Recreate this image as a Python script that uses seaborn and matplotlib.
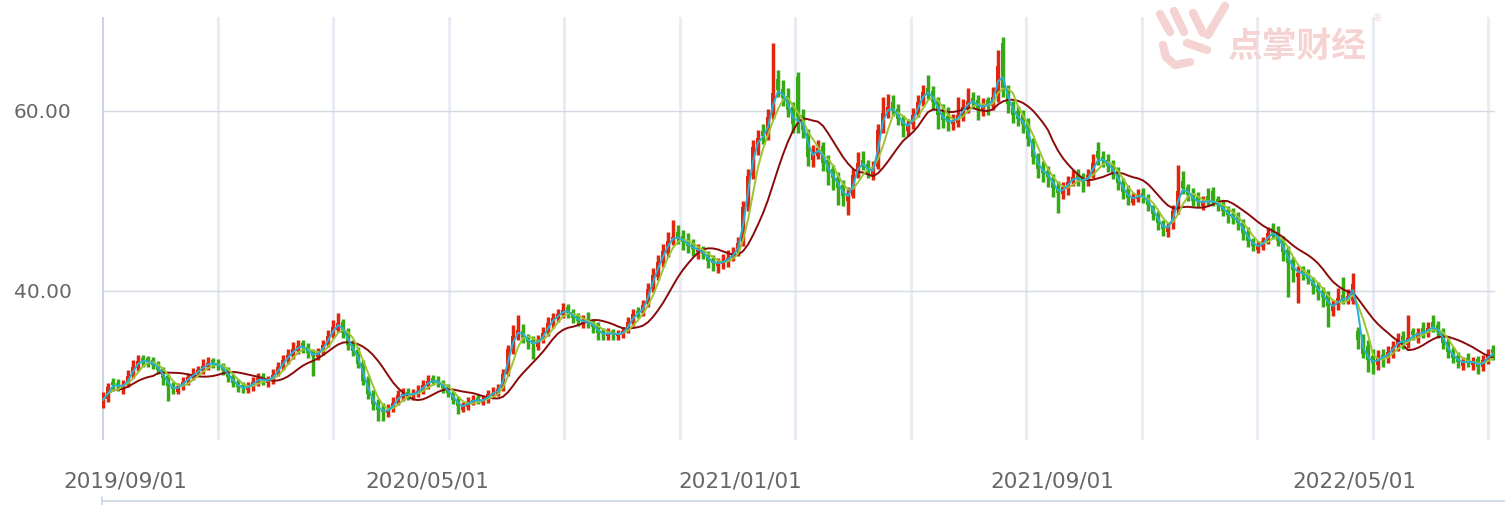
import numpy as np
import pandas as pd
import seaborn as sns
import matplotlib.pyplot as plt
from matplotlib.lines import Line2D

# OHLC candles (one candle ~ every 2-3 trading days)
opens = [
    27.3, 28.0, 29.9, 29.8, 29.0, 29.6, 30.6, 31.4, 32.6, 32.5,
    32.3, 31.9, 31.3, 30.5, 29.6, 28.8, 29.4, 30.0, 30.6, 30.9,
    31.1, 31.6, 32.3, 32.0, 31.8, 31.3, 30.5, 29.9, 29.5, 29.0,
    29.3, 29.8, 30.5, 29.8, 30.1, 30.8, 31.5, 32.5, 32.8, 33.3,
    34.2, 33.8, 33.3, 32.7, 33.3, 34.1, 35.1, 35.7, 36.6, 35.5,
    34.1, 33.4, 32.0, 30.1, 28.6, 27.6, 26.9, 26.4, 26.9, 27.6,
    28.2, 28.8, 28.3, 28.5, 28.9, 29.4, 30.3, 30.1, 29.8, 29.3,
    28.6, 27.9, 26.8, 27.1, 27.6, 28.1, 27.6, 27.9, 28.4, 28.6,
    29.2, 30.8, 33.4, 35.0, 35.6, 34.9, 34.6, 33.8, 34.6, 35.3,
    36.3, 37.0, 37.3, 38.2, 37.7, 37.2, 36.4, 36.8, 36.6, 36.1,
    35.5, 35.0, 35.5, 35.0, 35.1, 35.6, 36.4, 37.8, 37.5, 38.5,
    40.2, 41.6, 43.1, 44.2, 45.8, 46.5, 46.1, 45.7, 45.2, 44.3,
    44.6, 44.0, 43.6, 42.8, 43.0, 43.2, 43.8, 44.3, 45.4, 49.4,
    52.9, 55.8, 57.8, 57.2, 59.5, 63.5, 62.4, 61.7, 60.4, 63.8,
    59.6, 57.5, 54.6, 55.0, 56.1, 54.5, 53.5, 52.6, 51.8, 50.0,
    50.6, 53.0, 54.6, 54.1, 52.9, 53.8, 58.0, 59.6, 61.0, 60.2,
    59.0, 57.8, 58.5, 59.7, 61.1, 62.6, 62.2, 61.1, 59.8, 59.4,
    58.5, 58.7, 59.4, 60.3, 61.4, 61.2, 60.0, 61.2, 60.6, 61.5,
    67.5, 62.4, 60.3, 60.0, 59.6, 58.7, 56.5, 54.8, 53.8, 53.3,
    52.6, 51.6, 50.8, 51.3, 52.2, 52.9, 52.6, 52.2, 53.0, 55.6,
    54.9, 54.6, 54.0, 53.3, 52.1, 51.2, 49.8, 50.2, 50.9, 50.3,
    49.3, 48.6, 47.6, 46.5, 47.4, 49.0, 52.2, 51.6, 50.9, 50.4,
    49.4, 50.5, 51.1, 50.2, 49.6, 49.0, 48.6, 48.3, 47.6, 46.6,
    45.7, 44.6, 44.9, 45.7, 47.0, 46.6, 45.8, 44.5, 43.4, 41.5,
    42.4, 42.0, 41.2, 40.6, 40.0, 39.6, 37.8, 38.4, 39.6, 38.8,
    38.9, 35.5, 34.8, 33.9, 32.8, 31.8, 32.9, 32.6, 33.2, 33.9,
    35.0, 34.0, 35.5, 34.7, 35.9, 35.3, 36.6, 36.2, 35.5, 34.3,
    33.3, 32.8, 31.7, 32.6, 31.8, 32.4, 31.5, 32.2, 33.6,
]
closes = [
    27.9, 29.3, 29.6, 29.4, 29.5, 30.5, 31.6, 32.2, 32.2, 32.1,
    31.8, 31.2, 30.3, 29.4, 29.1, 29.4, 29.9, 30.4, 30.8, 31.2,
    31.7, 32.0, 31.9, 31.7, 31.2, 30.4, 29.8, 29.3, 29.2, 29.4,
    29.9, 30.3, 30.0, 30.1, 30.7, 31.5, 32.3, 32.9, 33.5, 33.9,
    33.7, 33.1, 32.8, 33.2, 34.0, 35.0, 36.0, 36.4, 35.3, 34.0,
    33.3, 31.9, 30.0, 28.5, 27.4, 26.8, 26.6, 26.8, 27.6, 28.4,
    28.5, 28.5, 28.6, 28.9, 29.5, 30.0, 30.0, 29.8, 29.2, 28.7,
    27.9, 27.2, 27.2, 27.7, 27.9, 27.8, 27.9, 28.5, 28.7, 29.1,
    30.8, 33.5, 35.0, 35.7, 34.8, 34.3, 34.1, 34.5, 35.3, 36.4,
    37.0, 37.4, 37.9, 37.6, 37.0, 36.7, 36.6, 36.5, 36.0, 35.3,
    35.2, 35.3, 35.2, 35.2, 35.5, 36.5, 37.4, 37.6, 38.4, 40.2,
    41.8, 43.2, 44.4, 45.6, 46.0, 45.9, 45.4, 45.0, 44.7, 44.5,
    44.1, 43.3, 43.1, 43.1, 43.3, 43.7, 44.2, 45.3, 49.3, 52.8,
    56.0, 57.0, 57.2, 59.3, 62.0, 62.3, 61.4, 60.1, 58.5, 59.3,
    57.9, 54.9, 55.3, 55.9, 54.2, 53.2, 52.5, 51.4, 50.6, 50.5,
    52.9, 54.2, 54.0, 53.1, 53.6, 57.9, 59.8, 60.4, 60.0, 59.1,
    58.3, 58.4, 59.6, 61.0, 62.1, 62.0, 61.0, 59.6, 59.0, 58.8,
    58.9, 59.5, 60.4, 61.1, 61.0, 60.3, 60.6, 60.8, 61.6, 65.0,
    62.5, 60.8, 59.6, 59.1, 58.5, 56.9, 54.9, 53.6, 53.1, 52.7,
    51.4, 50.9, 51.5, 52.1, 52.7, 52.4, 52.1, 52.9, 54.2, 54.8,
    54.4, 53.9, 53.1, 52.0, 51.0, 50.3, 50.3, 50.7, 50.4, 49.6,
    48.5, 47.5, 46.9, 47.2, 48.9, 51.1, 51.4, 50.7, 50.0, 49.9,
    49.9, 50.0, 49.9, 49.5, 48.9, 48.4, 48.1, 47.5, 46.4, 45.6,
    45.0, 45.0, 45.5, 46.4, 46.4, 45.6, 44.3, 43.1, 42.3, 42.0,
    41.9, 41.3, 40.5, 39.9, 39.3, 38.3, 38.3, 39.2, 39.0, 39.4,
    40.8, 34.5, 33.0, 32.3, 32.0, 32.6, 32.7, 33.2, 33.8, 34.6,
    34.2, 34.8, 35.1, 35.3, 35.4, 35.9, 36.0, 35.4, 34.2, 33.2,
    32.6, 32.1, 32.1, 32.1, 32.1, 31.6, 32.3, 32.9, 33.1,
]
highs = [
    28.8, 29.8, 30.3, 30.2, 30.1, 31.2, 32.3, 32.9, 32.9, 32.8,
    32.7, 32.2, 31.6, 30.8, 29.9, 29.8, 30.4, 30.9, 31.4, 31.7,
    32.4, 32.7, 32.6, 32.4, 32.0, 31.5, 30.8, 30.2, 29.9, 29.9,
    30.4, 30.9, 30.9, 30.6, 31.3, 32.1, 32.9, 33.6, 34.3, 34.6,
    34.6, 34.2, 33.6, 33.7, 34.6, 35.7, 36.8, 37.6, 36.9, 35.9,
    34.5, 33.8, 32.3, 30.5, 29.0, 28.0, 27.5, 27.4, 28.2, 29.0,
    29.2, 29.2, 29.1, 29.5, 30.1, 30.7, 30.7, 30.5, 30.1, 29.7,
    28.9, 28.3, 27.7, 28.2, 28.4, 28.5, 28.4, 29.0, 29.3, 29.7,
    31.3, 34.0, 36.2, 37.3, 36.3, 35.2, 35.0, 35.1, 36.0, 37.1,
    37.6, 38.0, 38.7, 38.6, 38.0, 37.5, 37.3, 37.7, 36.9, 36.5,
    35.9, 35.9, 35.8, 35.7, 36.0, 37.1, 38.0, 38.2, 39.0, 40.9,
    42.6, 44.0, 45.2, 46.6, 47.9, 47.3, 46.8, 46.4, 45.8, 45.2,
    45.0, 44.4, 44.0, 43.7, 44.1, 44.6, 44.9, 46.0, 50.0, 53.6,
    56.8, 57.9, 58.6, 60.2, 67.6, 64.6, 63.4, 62.5, 61.0, 64.3,
    60.2, 58.0, 56.2, 56.8, 56.6, 55.1, 54.0, 53.2, 52.3, 51.5,
    53.5, 55.4, 55.5, 54.6, 54.4, 58.6, 61.5, 61.9, 61.8, 60.8,
    59.6, 59.1, 60.3, 61.8, 62.9, 64.0, 62.8, 61.6, 60.8, 60.4,
    59.7, 61.5, 61.3, 62.6, 62.1, 61.8, 61.4, 61.6, 62.7, 66.8,
    68.2, 62.9, 61.1, 60.5, 60.1, 59.2, 57.0, 55.3, 54.4, 53.9,
    53.0, 52.2, 52.1, 52.8, 53.4, 53.6, 53.1, 53.6, 55.2, 56.6,
    55.6, 55.2, 54.6, 53.8, 52.6, 51.8, 50.9, 51.3, 51.4, 50.8,
    49.6, 48.9, 47.9, 47.7, 49.6, 54.0, 53.3, 51.9, 51.4, 51.0,
    50.5, 51.4, 51.5, 50.6, 50.1, 49.4, 49.2, 48.8, 48.0, 47.1,
    45.9, 45.5, 46.0, 47.1, 47.6, 47.2, 46.1, 45.0, 43.8, 42.8,
    42.8, 42.4, 41.5, 41.0, 40.4, 40.0, 39.0, 40.3, 41.5, 40.2,
    42.0, 36.0, 35.2, 34.5, 33.6, 33.4, 33.6, 33.9, 34.4, 35.3,
    35.5, 37.3, 35.9, 35.9, 36.6, 36.5, 37.3, 36.7, 35.9, 34.8,
    33.8, 33.2, 32.7, 33.1, 32.7, 32.8, 32.9, 33.6, 34.0,
]
lows = [
    27.0, 27.7, 29.1, 28.9, 28.6, 29.3, 30.3, 31.1, 31.6, 31.6,
    31.3, 30.8, 29.6, 27.8, 28.6, 28.5, 29.0, 29.6, 30.1, 30.5,
    30.8, 31.2, 31.4, 31.2, 30.7, 29.9, 29.3, 28.8, 28.7, 28.7,
    28.9, 29.4, 29.5, 29.3, 29.7, 30.5, 31.2, 31.9, 32.4, 33.0,
    33.1, 32.5, 30.6, 32.3, 32.9, 33.8, 34.8, 35.4, 34.8, 33.4,
    32.8, 31.4, 29.5, 28.0, 26.8, 25.5, 25.6, 26.0, 26.6, 27.3,
    27.8, 27.9, 27.9, 28.2, 28.6, 29.1, 29.5, 29.3, 28.7, 28.2,
    27.4, 26.3, 26.6, 26.8, 27.3, 27.4, 27.3, 27.6, 28.1, 28.3,
    28.9, 30.5, 33.0, 34.6, 34.2, 33.5, 32.4, 33.4, 34.2, 35.0,
    35.9, 36.5, 37.0, 37.0, 36.4, 36.1, 35.9, 35.9, 35.3, 34.6,
    34.5, 34.6, 34.6, 34.6, 34.8, 35.3, 36.1, 37.0, 37.2, 38.2,
    39.9, 41.2, 42.7, 43.8, 45.1, 45.2, 44.6, 44.2, 43.9, 43.6,
    43.5, 42.5, 42.2, 42.0, 42.4, 42.7, 43.3, 43.9, 45.0, 48.9,
    52.4, 55.1, 56.3, 56.8, 59.1, 61.5, 60.5, 59.3, 57.5, 57.5,
    57.0, 53.9, 53.8, 54.7, 53.3, 51.8, 51.2, 49.6, 49.4, 48.4,
    50.3, 52.5, 53.4, 52.6, 52.3, 53.5, 57.6, 59.2, 59.4, 58.4,
    57.1, 57.2, 58.0, 59.3, 60.6, 61.3, 60.1, 58.0, 58.1, 57.8,
    57.9, 58.2, 58.9, 59.8, 60.3, 59.0, 59.4, 59.6, 60.1, 61.0,
    61.5, 59.8, 58.7, 58.3, 57.6, 56.1, 54.1, 52.6, 52.1, 51.6,
    50.4, 48.7, 50.2, 50.7, 51.7, 51.7, 51.0, 51.7, 52.6, 54.0,
    53.8, 53.2, 52.4, 51.2, 50.2, 49.6, 49.5, 49.9, 49.8, 48.9,
    47.9, 46.8, 46.1, 46.0, 46.9, 48.6, 50.8, 50.0, 49.4, 49.3,
    49.0, 49.4, 49.4, 48.9, 48.3, 47.6, 47.4, 46.8, 45.7, 44.9,
    44.4, 44.2, 44.5, 45.2, 45.8, 45.0, 43.3, 39.3, 41.0, 38.7,
    41.2, 40.8, 39.7, 39.0, 38.2, 36.0, 37.2, 37.9, 38.6, 38.5,
    38.6, 33.5, 32.6, 31.0, 30.8, 31.2, 31.6, 32.0, 32.5, 33.3,
    33.6, 33.7, 34.5, 34.2, 34.8, 34.9, 35.4, 34.8, 33.6, 32.5,
    32.0, 31.4, 31.2, 31.5, 31.2, 30.8, 31.1, 31.9, 32.3,
]

date_labels = ["2019/09/01", "2020/05/01", "2021/01/01", "2021/09/01", "2022/05/01"]
date_pos = [4.4, 64.8, 127.4, 189.8, 250.2]
y_ticks = [40, 60]

RED = "#e0260c"
GREEN = "#35a916"
MA_COLORS = {"ma5": "#2ab0d8", "ma10": "#9cc534", "ma30": "#8b0a0a"}

df = pd.DataFrame({"open": opens, "close": closes, "high": highs, "low": lows})
df["idx"] = np.arange(len(df))
df["ma5"] = df["close"].rolling(2, min_periods=1).mean()
df["ma10"] = df["close"].rolling(4, min_periods=1).mean()
df["ma30"] = df["close"].rolling(11, min_periods=1).mean()

sns.set_style("white")
W, H = 1505, 505
fig = plt.figure(figsize=(W / 100, H / 100), dpi=100)
ax = fig.add_axes([102 / W, 65 / H, 1393 / W, 423 / H])

# grid
for k in range(13):
    xv = -0.2 + k * 23.1
    if k == 0:
        ax.axvline(xv, color="#c9d4e6", lw=2.2, zorder=1)
    else:
        ax.axvline(xv, color="#e9edf3", lw=2.2, zorder=1)
for yv in y_ticks:
    ax.axhline(yv, color="#d3dae4", lw=1, zorder=1)

# candles - at this density the wicks are about as wide as the bodies
up = df["close"] >= df["open"]
colors = np.where(up, RED, GREEN)
ax.vlines(df["idx"], df["low"], df["high"], colors=colors, lw=2.5, zorder=2)
body = (df["close"] - df["open"]).abs().clip(lower=0.1)
ax.bar(df["idx"], body, bottom=df[["open", "close"]].min(axis=1),
       width=0.95, color=colors, linewidth=0, zorder=3)

# moving averages
for col in ["ma30", "ma10", "ma5"]:
    sns.lineplot(data=df, x="idx", y=col, color=MA_COLORS[col], lw=1.4,
                 ax=ax, zorder=4)

ax.set_xlim(-0.2, 278.4)
ax.set_ylim(23.44, 70.44)
ax.set_yticks(y_ticks)
ax.set_yticklabels([f"{v:.2f}" for v in y_ticks])
ax.set_xticks(date_pos)
ax.set_xticklabels(date_labels)
ax.tick_params(axis="y", length=0, pad=22, labelsize=14.5, labelcolor="#666666")
ax.tick_params(axis="x", length=0, pad=23, labelsize=15.5, labelcolor="#666666")
ax.set_xlabel("")
ax.set_ylabel("")
for s in ax.spines.values():
    s.set_visible(False)

# bottom rule
fig.add_artist(Line2D([102 / W, 1.0], [1 - 501 / H, 1 - 501 / H],
                      color="#c9d4e6", lw=1.2))
fig.add_artist(Line2D([102 / W, 102 / W], [1 - 497 / H, 0],
                      color="#c9d4e6", lw=1.2))

# watermark
wm = "#f6d3d3"
fig.text(1297 / W, 1 - 46 / H, "点掌财经", family=["Noto Sans CJK SC", "DejaVu Sans"],
         fontsize=25, fontweight="bold", color=wm, ha="center", va="center")
fig.text(1378 / W, 1 - 18 / H, "®", fontsize=7, color="#f0dada", ha="center", va="center")
strokes = [
    [(1160, 14), (1170, 32)],
    [(1174, 11), (1184, 32)],
    [(1193, 13), (1203, 33)],
    [(1225, 6), (1208, 35)],
    [(1187, 43), (1207, 50)],
    [(1163, 45), (1166, 57), (1175, 65), (1190, 62)],
]
for pts in strokes:
    xs = [p[0] / W for p in pts]
    ys = [1 - p[1] / H for p in pts]
    fig.add_artist(Line2D(xs, ys, color=wm, lw=6, solid_capstyle="round",
                          solid_joinstyle="round"))

fig.savefig("out.png", dpi=100)
